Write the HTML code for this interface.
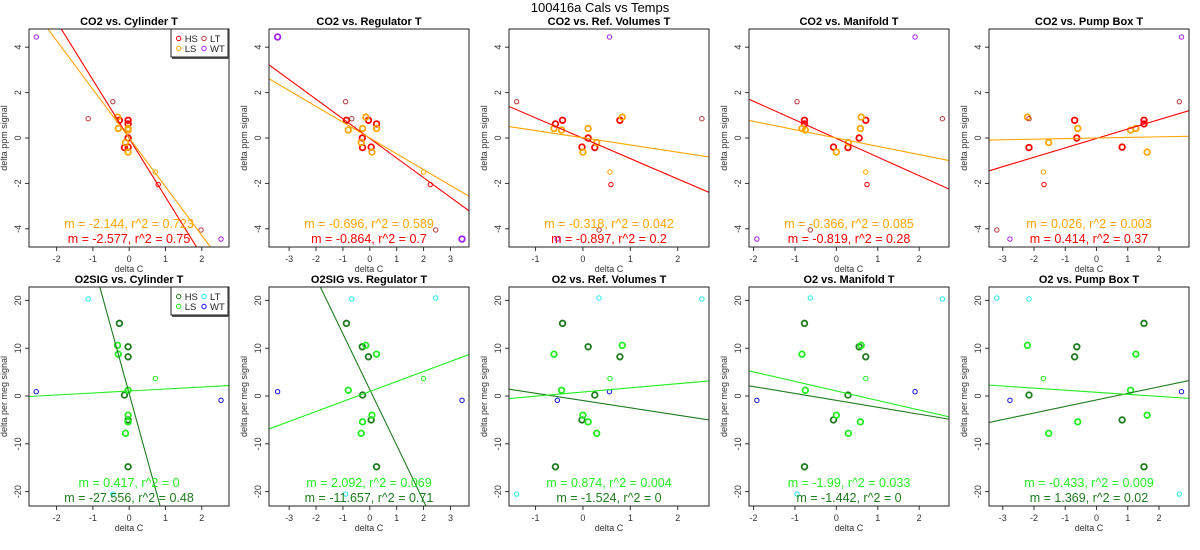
<!DOCTYPE html>
<html><head><meta charset="utf-8"><style>
html,body{margin:0;padding:0;background:#fff;width:1200px;height:550px;overflow:hidden;}
svg{display:block;font-family:"Liberation Sans",sans-serif;}
</style></head><body>
<svg id="chart" width="1200" height="550" viewBox="0 0 1200 550">
<text x="600" y="12" text-anchor="middle" font-size="13">100416a   Cals vs Temps</text>
</svg>
<script>
// x-axis ranges & ticks for each column (temperature sensors)
const xMins = [-2.76, -3.75, -1.56, -2.11, -3.44];
const xMaxs = [2.75, 3.69, 2.66, 2.72, 2.96];
const xTicks = [[-2,-1,0,1,2],[-3,-2,-1,0,1,2,3],[-1,0,1,2],[-2,-1,0,1,2],[-3,-2,-1,0,1,2]];
const topTitles = ["CO2 vs. Cylinder T","CO2 vs. Regulator T","CO2 vs. Ref. Volumes T","CO2 vs. Manifold T","CO2 vs. Pump Box T"];
const botTitles = ["O2SIG vs. Cylinder T","O2SIG vs. Regulator T","O2 vs. Ref. Volumes T","O2 vs. Manifold T","O2 vs. Pump Box T"];
// x values (delta C) per column
const hsX = [[-0.27,-0.03,-0.03,-0.03,-0.13,-0.03],[-0.87,-0.05,0.25,-0.28,-0.27,0.05],[-0.43,0.78,-0.58,0.11,0.25,-0.02],[-0.77,0.71,-0.77,0.55,0.28,-0.07],[1.52,-0.70,1.52,-0.63,-2.16,0.82]];
const lsX = [[-0.32,-0.03,-0.3,-0.03,-0.1,-0.03],[-0.15,-0.27,0.25,-0.8,-0.32,0.08],[0.83,0.11,-0.61,-0.45,0.29,0.0],[0.6,0.58,-0.83,-0.75,0.29,0.0],[-2.21,-0.6,1.26,1.09,-1.53,1.62]];
const ltX = [[-0.45,-1.13,1.98],[-0.9,-0.67,2.45],[-1.4,2.51,0.34],[-0.95,2.56,-0.63],[2.65,-2.16,-3.19]];
const wtX = [[-2.56,2.53],[-3.43,3.43],[0.56,-0.54],[1.9,-1.92],[2.72,-2.77]];
const extraOrangeX = [0.72,2.0,0.57,0.71,-1.7];
const extraRedX = [0.8,2.25,0.59,0.74,-1.68];
// CO2 y values
const hsCO2 = [0.78,0.78,0.62,0.0,-0.42,-0.40];
const lsCO2 = [0.92,0.42,0.42,0.35,-0.2,-0.62];
const ltCO2 = [1.6,0.85,-4.05];
const wtCO2 = [4.45,-4.45];
const extraOrangeCO2 = -1.5;
const extraRedCO2 = -2.05;
// O2 y values
const hsO2 = [15.2,8.2,-14.8,10.3,0.2,-5.0];
const lsO2 = [10.6,-5.4,8.75,1.2,-7.8,-4.0];
const ltO2 = [-20.5,20.3,20.5];
const wtO2 = [0.9,-0.9];
const extraO2 = 3.65;
// fits
const co2HsSlope = [-2.577,-0.864,-0.897,-0.819,0.414];
const co2HsInt = [-0.02,-0.02,-0.01,-0.02,-0.02];
const co2LsSlope = [-2.144,-0.696,-0.318,-0.366,0.026];
const co2LsInt = [0,0,0.01,0,0];
const co2HsR2 = ["0.75","0.7","0.2","0.28","0.37"];
const co2LsR2 = ["0.723","0.589","0.042","0.085","0.003"];
const o2HsSlope = [-27.556,-11.657,-1.524,-1.442,1.369];
const o2HsInt = [0.5,1.35,-0.94,-0.91,-0.82];
const o2LsSlope = [0.417,2.092,0.874,-1.99,-0.433];
const o2LsInt = [1.05,0.95,0.84,1.06,0.79];
const o2HsR2 = ["0.48","0.71","0","0","0.02"];
const o2LsR2 = ["0","0.069","0.004","0.033","0.009"];
const yTicksCO2 = [-4,-2,0,2,4];
const yTicksO2 = [-20,-10,0,10,20];

const NS = "http://www.w3.org/2000/svg";
const svg = document.getElementById('chart');
function mk(tag, attrs, parent){const e=document.createElementNS(NS,tag);for(const k in attrs)e.setAttribute(k,attrs[k]);(parent||svg).appendChild(e);return e;}

function panel(col,row){
  const L=29+240*col, W=200;
  const T=row===0?29:287, B=row===0?247:506;
  const yMin=row===0?-4.8:-23, yMax=row===0?4.8:22.8;
  const sx=v=>L+(v-xMins[col])/(xMaxs[col]-xMins[col])*W;
  const sy=v=>B-(v-yMin)/(yMax-yMin)*(B-T);
  const g=mk('g',{});
  
  
  const cid='clip'+row+col;
  const cp=mk('clipPath',{id:cid},g);mk('rect',{x:L,y:T,width:W,height:B-T},cp);
  const t=mk('text',{x:L+W/2,y:T-4,'text-anchor':'middle','font-size':11,'font-weight':'bold'},g);
  t.textContent=(row===0?topTitles:botTitles)[col];
  
  
  xTicks[col].forEach(v=>{
    mk('line',{x1:sx(v),x2:sx(v),y1:B,y2:B+4,stroke:'#333','stroke-width':1},g);
    const tx=mk('text',{x:sx(v),y:B+15,'text-anchor':'middle','font-size':9,fill:'#333'},g);tx.textContent=v;
    
    
  });
  const xl=mk('text',{x:L+W/2,y:B+25,'text-anchor':'middle','font-size':9,fill:'#333'},g);xl.textContent='delta C';
  
  
  (row===0?yTicksCO2:yTicksO2).forEach(v=>{
    mk('line',{x1:L-4,x2:L,y1:sy(v),y2:sy(v),stroke:'#333','stroke-width':1},g);
    const ty=mk('text',{x:L-8,y:sy(v),'text-anchor':'middle','font-size':9,fill:'#333',transform:`rotate(-90 ${L-8} ${sy(v)})`},g);ty.textContent=v;
    
    
  });
  const yc=(T+B)/2;
  const yl=mk('text',{x:L-22,y:yc,'text-anchor':'middle','font-size':9,fill:'#333',transform:`rotate(-90 ${L-22} ${yc})`},g);
  yl.textContent=row===0?'delta ppm signal':'delta per meg signal';
  
  
  const pts=mk('g',{'clip-path':`url(#${cid})`},g);
  const c1=row===0?'#ff0000':'#1e7a1e', c2=row===0?'#ffa500':'#22ee22', c3=row===0?'#b03a3a':'#22eeee', c4=row===0?'#a020f0':'#1010ee';
  function pt(x,y,c,thick){
    const p=mk('circle',{cx:sx(x),cy:sy(y),r:thick?2.8:2.2,fill:'none',stroke:c,'stroke-width':thick?1.8:1},pts);
    
    
  }
  const hY=row===0?hsCO2:hsO2, lY=row===0?lsCO2:lsO2, tY=row===0?ltCO2:ltO2, wY=row===0?wtCO2:wtO2;
  hsX[col].forEach((x,i)=>pt(x,hY[i],c1,true));
  lsX[col].forEach((x,i)=>pt(x,lY[i],c2,true));
  ltX[col].forEach((x,i)=>{ if(!(row===1&&col===0&&i===2)) pt(x,tY[i],c3,false); });
  wtX[col].forEach((x,i)=>pt(x,wY[i],c4,col===1&&row===0));
  if(row===0){pt(extraOrangeX[col],extraOrangeCO2,c2,false);pt(extraRedX[col],extraRedCO2,c1,false);}
  else pt(extraOrangeX[col],extraO2,c2,false);
  function fit(m,b,c,nm){
    const x0=xMins[col],x1=xMaxs[col];
    const l=mk('line',{x1:sx(x0),y1:sy(m*x0+b),x2:sx(x1),y2:sy(m*x1+b),stroke:c,'stroke-width':1.1},pts);
    
    
  }
  if(row===0){fit(co2HsSlope[col],co2HsInt[col],c1,'hs-fit-line');fit(co2LsSlope[col],co2LsInt[col],c2,'ls-fit-line');}
  else{fit(o2HsSlope[col],o2HsInt[col],c1,'hs-fit-line');fit(o2LsSlope[col],o2LsInt[col],c2,'ls-fit-line');}
  const sl=row===0?[co2LsSlope[col],co2LsR2[col],co2HsSlope[col],co2HsR2[col]]:[o2LsSlope[col],o2LsR2[col],o2HsSlope[col],o2HsR2[col]];
  const a1=mk('text',{x:L+W/2,y:B-19,'text-anchor':'middle','font-size':12.5,fill:c2},g);a1.textContent=`m = ${sl[0]}, r^2 = ${sl[1]}`;
  
  
  const a2=mk('text',{x:L+W/2,y:B-4,'text-anchor':'middle','font-size':12.5,fill:c1},g);a2.textContent=`m = ${sl[2]}, r^2 = ${sl[3]}`;
  
  
  mk('rect',{x:L,y:T,width:W,height:B-T,fill:'none',stroke:'#222','stroke-width':1},g);
  if(col===0){
    const lg=mk('g',{},g);
    
    
    mk('rect',{x:172,y:T+1,width:57,height:29,fill:'#555'},lg);
    mk('rect',{x:171,y:T,width:57,height:28,fill:'#fff',stroke:'#222','stroke-width':1},lg);
    [['HS',c1,178.7,T+9.5],['LS',c2,178.7,T+19.5],['LT',c3,204,T+9.5],['WT',c4,204,T+19.5]].forEach(e=>{
      mk('circle',{cx:e[2],cy:e[3],r:2.2,fill:'none',stroke:e[1],'stroke-width':1},lg);
      const lt=mk('text',{x:e[2]+6,y:e[3]+3.5,'font-size':9.5,fill:'#222'},lg);lt.textContent=e[0];
      
      
    });
  }
}
for(let r=0;r<2;r++)for(let c=0;c<5;c++)panel(c,r);
</script>
</body></html>
